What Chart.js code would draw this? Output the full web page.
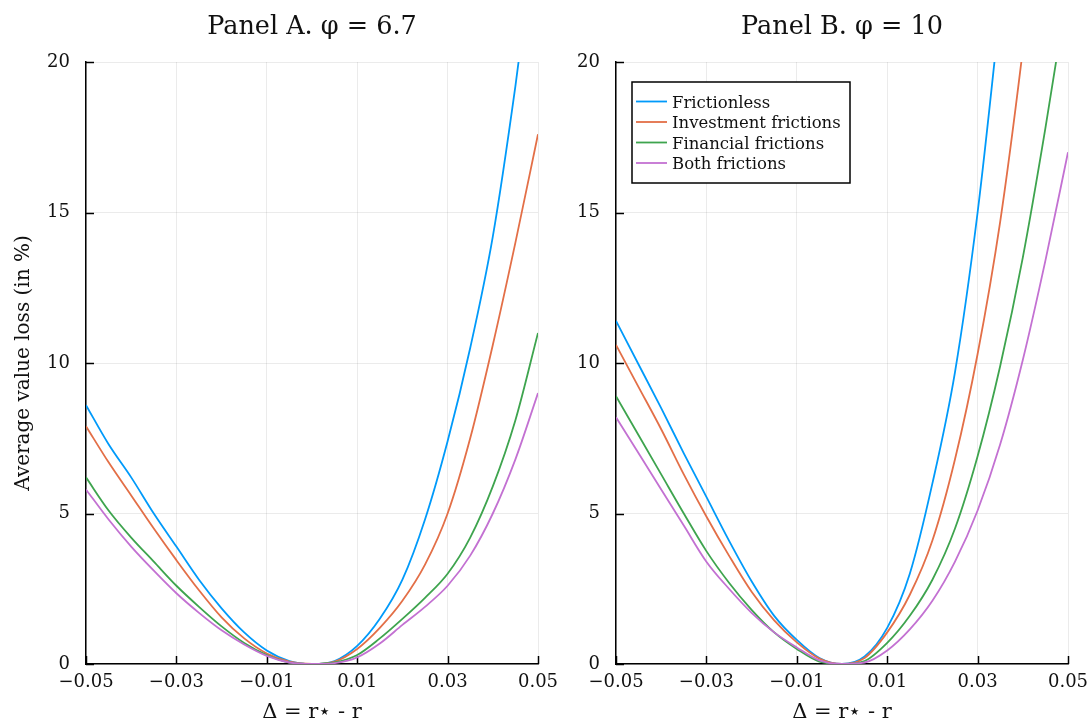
<!DOCTYPE html>
<html>
<head>
<meta charset="utf-8">
<script src="https://cdn.jsdelivr.net/npm/chart.js@4.4.1/dist/chart.umd.min.js"></script>
<style>
  body { margin: 0; background: #fff; }
  #wrap { position: relative; width: 1090px; height: 725px; }
  canvas { position: absolute; top: 0; }
</style>
</head>
<body>
<div id="wrap">
  <canvas id="panelA" width="560" height="725" style="left:0px"></canvas>
  <canvas id="panelB" width="530" height="725" style="left:560px"></canvas>
</div>
<script>
// x grid (Delta = r* - r)
var deltas = [-0.05, -0.045, -0.04, -0.035, -0.03, -0.025, -0.02, -0.015, -0.01, -0.005, 0,
              0.005, 0.01, 0.015, 0.02, 0.025, 0.03, 0.035, 0.04, 0.045, 0.05];

// Panel A, phi = 6.7
var aFrictionless = [8.6, 7.3, 6.2, 5.0, 3.9, 2.8, 1.85, 1.05, 0.45, 0.1, 0, 0.1, 0.6, 1.5, 2.8, 4.8, 7.4, 10.5, 14.2, 19.2, 25.0];
var aInvestment   = [7.9, 6.7, 5.6, 4.5, 3.45, 2.45, 1.55, 0.85, 0.35, 0.08, 0, 0.08, 0.5, 1.2, 2.1, 3.3, 5.0, 7.5, 10.6, 14.0, 17.6];
var aFinancial    = [6.2, 5.1, 4.2, 3.4, 2.6, 1.9, 1.25, 0.7, 0.3, 0.05, 0, 0.05, 0.3, 0.85, 1.5, 2.2, 3.0, 4.2, 5.9, 8.1, 11.0];
var aBoth         = [5.8, 4.8, 3.9, 3.1, 2.35, 1.7, 1.12, 0.65, 0.27, 0.05, 0, 0.03, 0.22, 0.68, 1.3, 1.9, 2.6, 3.6, 5.0, 6.8, 9.0];

// Panel B, phi = 10
var bFrictionless = [11.4, 9.95, 8.5, 7.0, 5.55, 4.1, 2.75, 1.6, 0.8, 0.2, 0, 0.25, 1.2, 3.0, 6.0, 9.7, 15.0, 21.8, 29, 37, 46];
var bInvestment   = [10.6, 9.2, 7.8, 6.3, 4.9, 3.6, 2.4, 1.45, 0.72, 0.18, 0, 0.2, 1.05, 2.3, 4.1, 6.8, 10.3, 14.7, 20.4, 27, 34];
var bFinancial    = [8.9, 7.6, 6.3, 5.0, 3.75, 2.7, 1.8, 1.05, 0.5, 0.08, 0, 0.1, 0.7, 1.6, 2.8, 4.5, 6.9, 9.9, 13.5, 17.8, 22.5];
var bBoth         = [8.2, 7.0, 5.8, 4.6, 3.4, 2.5, 1.7, 1.05, 0.55, 0.12, 0, 0.05, 0.45, 1.15, 2.1, 3.4, 5.1, 7.3, 10.1, 13.4, 17.0];

var seriesNames = ['Frictionless', 'Investment frictions', 'Financial frictions', 'Both frictions'];
var seriesColors = ['#009AFA', '#E36F47', '#3EA44E', '#C371D2'];

var xTicks = [-0.05, -0.03, -0.01, 0.01, 0.03, 0.05];
var xTickLabels = ['\u22120.05', '\u22120.03', '\u22120.01', '0.01', '0.03', '0.05'];
var yTicks = [0, 5, 10, 15, 20];

var FONT = "'DejaVu Serif', serif";

// inward tick marks, like the original plot
var innerTicks = {
    id: 'innerTicks',
    beforeDatasetsDraw: function(chart) {
        var ctx = chart.ctx, area = chart.chartArea, sx = chart.scales.x, sy = chart.scales.y;
        ctx.save();
        ctx.strokeStyle = '#000';
        ctx.lineWidth = 1.5;
        sx.ticks.forEach(function(t) {
            var px = Math.round(sx.getPixelForValue(t.value)) + 0.5;
            ctx.beginPath(); ctx.moveTo(px, area.bottom); ctx.lineTo(px, area.bottom - 8); ctx.stroke();
        });
        sy.ticks.forEach(function(t) {
            var py = Math.round(sy.getPixelForValue(t.value)) + 0.5;
            ctx.beginPath(); ctx.moveTo(area.left, py); ctx.lineTo(area.left + 8, py); ctx.stroke();
        });
        ctx.restore();
    }
};

// boxed legend in the upper left of the plot area
var boxLegend = {
    id: 'boxLegend',
    afterDraw: function(chart, args, opts) {
        if (!opts.show) return;
        var ctx = chart.ctx, area = chart.chartArea;
        var x0 = area.left + 16, y0 = area.top + 20, w = 218, h = 101;
        ctx.save();
        ctx.fillStyle = '#fff';
        ctx.fillRect(x0, y0, w, h);
        ctx.strokeStyle = '#000';
        ctx.lineWidth = 1.5;
        ctx.strokeRect(x0, y0, w, h);
        ctx.font = '16.5px ' + FONT;
        ctx.textBaseline = 'middle';
        chart.data.datasets.forEach(function(ds, i) {
            var cy = y0 + 20.5 + i * 20.5;
            ctx.strokeStyle = ds.borderColor;
            ctx.lineWidth = 1.8;
            ctx.beginPath(); ctx.moveTo(x0 + 4, cy - 1); ctx.lineTo(x0 + 35, cy - 1); ctx.stroke();
            ctx.fillStyle = '#111';
            ctx.fillText(ds.label, x0 + 40, cy + 1);
        });
        ctx.restore();
    }
};

function makeDatasets(lists) {
    return lists.map(function(vals, i) {
        return {
            label: seriesNames[i],
            data: vals.map(function(v, j) { return { x: deltas[j], y: v }; }),
            borderColor: seriesColors[i],
            backgroundColor: seriesColors[i],
            borderWidth: 1.8,
            pointRadius: 0,
            tension: 0.4,
            cubicInterpolationMode: 'monotone',
            fill: false,
            order: 4 - i
        };
    });
}

function drawPanel(canvasId, titleText, lists, yAxisWidth, showYTitle, showLegend) {
    var canvasElement = document.getElementById(canvasId);
    var ctx = canvasElement.getContext('2d');
    return new Chart(ctx, {
        type: 'line',
        data: { datasets: makeDatasets(lists) },
        plugins: [innerTicks, boxLegend],
        options: {
            responsive: false,
            animation: false,
            devicePixelRatio: 1,
            layout: { padding: { left: 0, right: 22, top: 0, bottom: 0 } },
            plugins: {
                legend: { display: false },
                tooltip: { enabled: false },
                title: {
                    display: true,
                    text: titleText,
                    fullSize: false,
                    color: '#111',
                    font: { family: FONT, size: 25.5, weight: 'normal', lineHeight: 1.2 },
                    padding: { top: 12, bottom: 19.4 }
                },
                boxLegend: { show: showLegend }
            },
            scales: {
                x: {
                    type: 'linear',
                    min: -0.05,
                    max: 0.05,
                    afterBuildTicks: function(scale) {
                        scale.ticks = xTicks.map(function(v) { return { value: v }; });
                    },
                    afterFit: function(scale) {
                        scale.height = 61;
                        scale.paddingLeft = 0;
                        scale.paddingRight = 0;
                    },
                    ticks: {
                        autoSkip: false,
                        maxRotation: 0,
                        padding: 8,
                        color: '#111',
                        font: { family: FONT, size: 18 },
                        callback: function(value, index) { return xTickLabels[index]; }
                    },
                    grid: { color: 'rgba(0,0,0,0.08)', lineWidth: 1, drawTicks: false },
                    border: { display: true, color: '#000', width: 1.5 },
                    title: {
                        display: true,
                        text: '\u0394 = r\u22c6 - r',
                        color: '#111',
                        font: { family: FONT, size: 21 },
                        padding: { top: 0, bottom: 0 }
                    }
                },
                y: {
                    min: 0,
                    max: 20,
                    afterBuildTicks: function(scale) {
                        scale.ticks = yTicks.map(function(v) { return { value: v }; });
                    },
                    afterFit: function(scale) { scale.width = yAxisWidth; },
                    ticks: {
                        padding: 16,
                        color: '#111',
                        font: { family: FONT, size: 18 }
                    },
                    grid: { color: 'rgba(0,0,0,0.08)', lineWidth: 1, drawTicks: false },
                    border: { display: true, color: '#000', width: 1.5 },
                    title: {
                        display: showYTitle,
                        text: 'Average value loss (in %)',
                        color: '#111',
                        font: { family: FONT, size: 20 },
                        padding: { top: 12, bottom: 0 }
                    }
                }
            }
        }
    });
}

drawPanel('panelA', 'Panel A. \u03c6 = 6.7', [aFrictionless, aInvestment, aFinancial, aBoth], 86, true, false);
drawPanel('panelB', 'Panel B. \u03c6 = 10', [bFrictionless, bInvestment, bFinancial, bBoth], 56, false, true);
</script>
</body>
</html>
